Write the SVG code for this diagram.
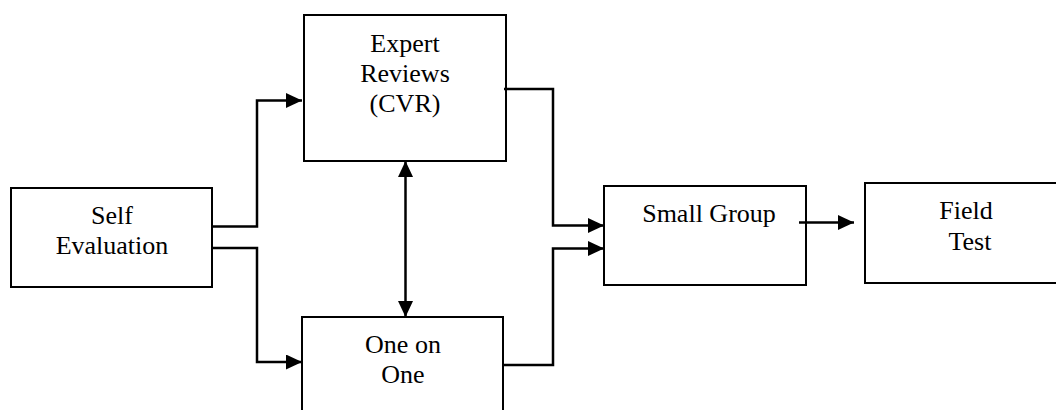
<svg xmlns="http://www.w3.org/2000/svg" width="1056" height="410" viewBox="0 0 1056 410">
<style>
.box{fill:#fff;stroke:#000;stroke-width:2}
.t{font-family:'Liberation Serif','Times New Roman','DejaVu Serif',serif;font-size:26px;fill:#000;text-anchor:middle}
.c{fill:none;stroke:#000;stroke-width:2.5}
</style>
<defs>
<marker id="ah" viewBox="0 0 16 15" refX="16" refY="7.5" markerWidth="16" markerHeight="15" markerUnits="userSpaceOnUse" orient="auto-start-reverse">
<path d="M0,0 L16,7.5 L0,15 Z" fill="#000"/>
</marker>
</defs>
<rect width="1056" height="410" fill="#fff"/>
<g id="self-evaluation">
<rect class="box" x="11" y="188" width="201" height="99"/>
<text class="t" font-family="Liberation Serif, serif" x="112" y="224">Self</text>
<text class="t" font-family="Liberation Serif, serif" x="112" y="254">Evaluation</text>
</g>
<g id="expert-reviews">
<rect class="box" x="304" y="15" width="202" height="146"/>
<text class="t" font-family="Liberation Serif, serif" x="405" y="52">Expert</text>
<text class="t" font-family="Liberation Serif, serif" x="405" y="82">Reviews</text>
<text class="t" font-family="Liberation Serif, serif" x="405" y="112">(CVR)</text>
</g>
<g id="one-on-one">
<rect class="box" x="302" y="317" width="201" height="110"/>
<text class="t" font-family="Liberation Serif, serif" x="403" y="353">One on</text>
<text class="t" font-family="Liberation Serif, serif" x="403" y="383">One</text>
</g>
<g id="small-group">
<rect class="box" x="604" y="186" width="202" height="99"/>
<text class="t" font-family="Liberation Serif, serif" x="709" y="222">Small Group</text>
</g>
<g id="field-test">
<rect class="box" x="865" y="183" width="210" height="100"/>
<text class="t" font-family="Liberation Serif, serif" x="966" y="219">Field</text>
<text class="t" font-family="Liberation Serif, serif" x="970" y="250">Test</text>
</g>
<g id="connectors">
<path class="c" d="M212,226.5 H257 V100.5 H302" marker-end="url(#ah)"/>
<path class="c" d="M212,248 H257 V362 H302" marker-end="url(#ah)"/>
<path class="c" d="M405.5,161 V317" marker-start="url(#ah)" marker-end="url(#ah)"/>
<path class="c" d="M504,89 H553 V225.5 H604" marker-end="url(#ah)"/>
<path class="c" d="M503,365 H553 V248.5 H604" marker-end="url(#ah)"/>
<path class="c" d="M799,222.5 H854" marker-end="url(#ah)"/>
</g>
</svg>
